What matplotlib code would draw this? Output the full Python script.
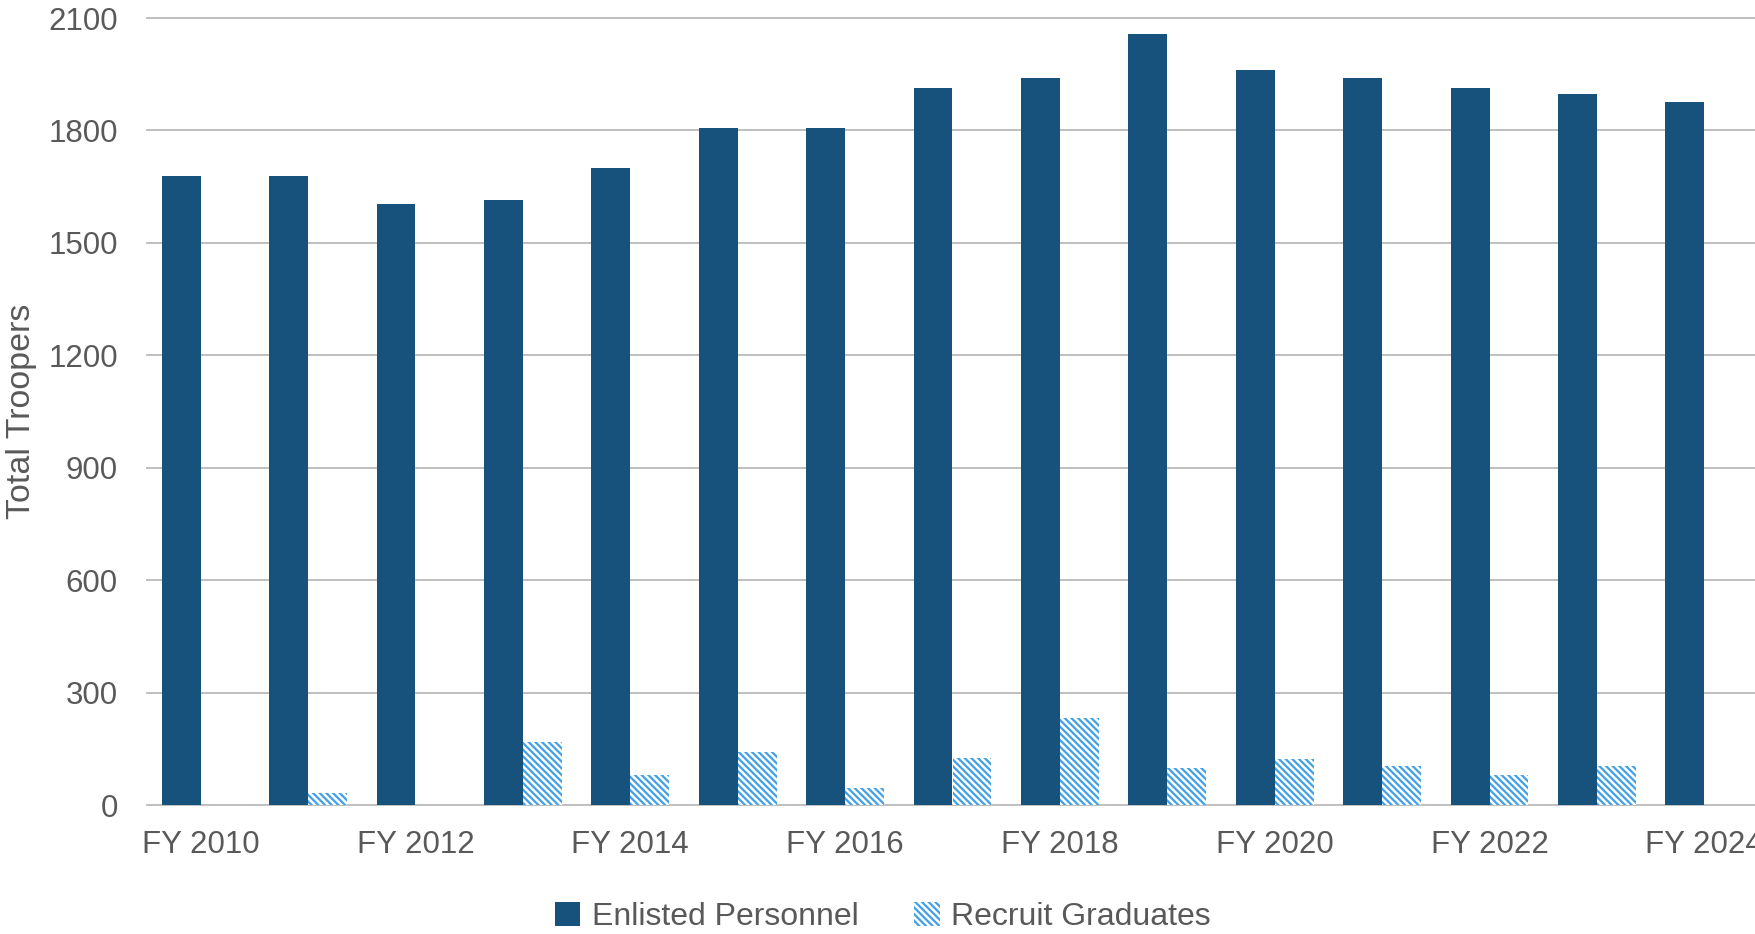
import matplotlib
matplotlib.use("Agg")
import matplotlib.pyplot as plt
import numpy as np

categories = ["FY 2010", "FY 2011", "FY 2012", "FY 2013", "FY 2014", "FY 2015", "FY 2016",
              "FY 2017", "FY 2018", "FY 2019", "FY 2020", "FY 2021", "FY 2022", "FY 2023", "FY 2024"]
enlisted = [1679, 1679, 1603, 1614, 1699, 1807, 1807, 1914, 1940, 2057, 1960, 1940, 1912, 1897, 1876]
graduates = [0, 33, 0, 168, 81, 142, 47, 125, 233, 100, 123, 106, 80, 106, 0]
y_ticks = [0, 300, 600, 900, 1200, 1500, 1800, 2100]

plt.rcParams['font.family'] = ['Liberation Sans', 'DejaVu Sans']
plt.rcParams['hatch.linewidth'] = 1.6

TEXT = '#595959'
DARK = '#17527D'
LIGHT = '#41A0E6'
GRID = '#BFBFBF'

fig = plt.figure(figsize=(17.55, 9.34), dpi=100)
ax = fig.add_axes([147 / 1755, 1 - 805.3 / 934, (1758 - 147) / 1755, (805.3 - 18) / 934])

x = np.arange(len(categories))
w = 0.363
ax.bar(x - w / 2, enlisted, width=w, color=DARK, linewidth=0, label='Enlisted Personnel', zorder=3)
ax.bar(x + w / 2, graduates, width=w, facecolor='white', edgecolor=LIGHT, linewidth=0,
       hatch='\\\\\\\\\\', label='Recruit Graduates', zorder=3)

ax.set_xlim(-0.5, len(categories) - 0.5)
ax.set_ylim(0, 2100)
ax.set_yticks(y_ticks)
ax.set_yticklabels([str(v) for v in y_ticks])
ax.set_xticks(x[::2])
ax.set_xticklabels(categories[::2])
ax.tick_params(axis='both', length=0, labelsize=22.5, colors=TEXT)
ax.tick_params(axis='y', pad=21)
ax.tick_params(axis='x', pad=18)
for s in ax.spines.values():
    s.set_visible(False)
ax.set_axisbelow(True)
ax.yaxis.grid(True, color=GRID, linewidth=1.4)
for gl in ax.get_ygridlines():
    gl.set_clip_on(False)
ax.xaxis.grid(False)

fig.text(22 / 1755, 1 - 411 / 934, 'Total Troopers', rotation=90, fontsize=24.5, color=TEXT,
         ha='center', va='center')

leg = fig.legend(loc='center', bbox_to_anchor=(0.503, 1 - 917 / 934), ncol=2, frameon=False,
                 fontsize=23, handlelength=0.8, handleheight=0.8, handletextpad=0.35,
                 columnspacing=1.75, borderpad=0)
for t in leg.get_texts():
    t.set_color(TEXT)

fig.savefig('out.png', dpi=100)
